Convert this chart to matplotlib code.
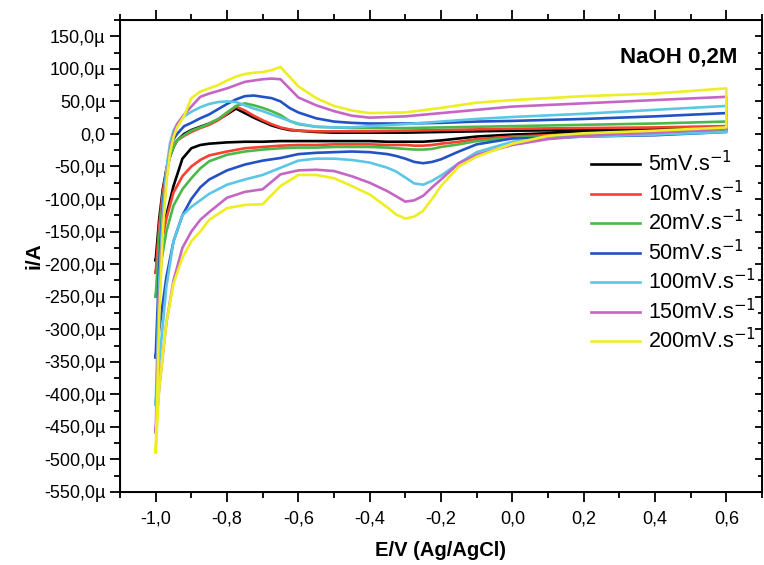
import numpy as np
import matplotlib.pyplot as plt
from matplotlib.ticker import MultipleLocator, FuncFormatter

plt.rcParams['font.family'] = ['Liberation Sans', 'DejaVu Sans']

# potential grids (V vs Ag/AgCl): anodic sweep and return sweep
E_fwd = [-1.0, -0.99, -0.98, -0.97, -0.96, -0.95, -0.94, -0.92, -0.9, -0.875,
         -0.85, -0.825, -0.8, -0.775, -0.75, -0.725, -0.7, -0.675, -0.65, -0.625,
         -0.6, -0.55, -0.5, -0.45, -0.4, -0.3, -0.2, -0.1, 0.0, 0.2, 0.4, 0.6]
E_rev = [0.6, 0.4, 0.2, 0.1, 0.0, -0.1, -0.15, -0.2, -0.225, -0.25, -0.275,
         -0.3, -0.325, -0.35, -0.4, -0.45, -0.5, -0.55, -0.6, -0.65, -0.7,
         -0.75, -0.8, -0.85, -0.875, -0.9, -0.925, -0.95, -0.97, -0.99, -1.0]

# currents in microamps
fwd_5 = [-194, -130, -85, -55, -35, -20, -10, 0, 6, 11, 16, 22, 30, 39, 32, 25,
         19, 13, 9, 6, 5, 3, 2, 2, 2, 2, 3, 4, 5, 6, 7, 9]
rev_5 = [8, 4, 3, 1, -1, -4, -7, -10, -11, -12, -12, -12, -12, -12, -11, -11,
         -11, -11, -11, -11, -12, -12, -13, -15, -17, -22, -38, -80, -125, -175, -194]

fwd_10 = [-213, -140, -90, -55, -32, -18, -10, -3, 3, 9, 14, 21, 31, 42, 36, 28,
          21, 15, 10, 7, 5, 4, 4, 4, 4, 5, 6, 7, 8, 9, 10, 12]
rev_10 = [7, 2, 0, -2, -4, -8, -12, -15, -17, -18, -18, -17, -17, -17, -16, -16,
          -16, -17, -17, -18, -20, -22, -27, -33, -40, -50, -65, -90, -130, -185, -213]

fwd_20 = [-250, -160, -100, -60, -35, -20, -10, -2, 5, 10, 16, 23, 33, 43, 47, 44,
          40, 35, 29, 20, 15, 11, 10, 9, 9, 9, 10, 11, 12, 14, 16, 19]
rev_20 = [6, 0, -2, -4, -6, -11, -16, -20, -23, -24, -24, -23, -22, -21, -20, -20,
          -20, -21, -21, -22, -24, -27, -32, -42, -53, -68, -85, -110, -150, -215, -250]

fwd_50 = [-343, -200, -110, -55, -25, -8, 0, 12, 17, 24, 30, 38, 46, 53, 58, 59,
          57, 55, 50, 40, 33, 24, 19, 17, 16, 16, 17, 19, 20, 23, 27, 32]
rev_50 = [3, -2, -4, -6, -7, -16, -27, -39, -43, -45, -43, -38, -34, -31, -28, -27,
          -28, -29, -31, -37, -41, -47, -56, -70, -82, -100, -125, -165, -220, -300, -343]

fwd_100 = [-416, -230, -120, -55, -15, 5, 15, 27, 34, 41, 46, 49, 50, 49, 44, 39,
           35, 30, 25, 20, 16, 11, 10, 10, 12, 15, 19, 23, 26, 31, 37, 43]
rev_100 = [3, -1, -4, -7, -12, -28, -45, -64, -72, -78, -76, -67, -58, -52, -44, -40,
           -38, -38, -41, -52, -63, -70, -78, -92, -102, -112, -125, -165, -235, -350, -416]

fwd_150 = [-458, -260, -140, -70, -25, 0, 15, 30, 42, 57, 62, 66, 70, 75, 80, 82,
           84, 85, 84, 70, 56, 44, 35, 28, 25, 27, 32, 37, 42, 47, 52, 57]
rev_150 = [8, 2, -3, -8, -17, -32, -45, -70, -82, -95, -102, -104, -96, -88, -75, -65,
           -57, -55, -56, -62, -85, -89, -98, -120, -132, -150, -175, -225, -290, -390, -458]

fwd_200 = [-489, -280, -150, -75, -30, -5, 10, 28, 55, 65, 70, 75, 82, 88, 92, 94,
           95, 98, 103, 88, 73, 55, 43, 36, 32, 33, 40, 48, 52, 58, 62, 70]
rev_200 = [10, 5, 1, -3, -15, -35, -50, -80, -100, -118, -127, -130, -124, -113, -93, -80,
           -68, -63, -63, -80, -108, -109, -114, -132, -150, -165, -190, -230, -290, -390, -489]

labels = ['5mV.s$^{-1}$', '10mV.s$^{-1}$', '20mV.s$^{-1}$', '50mV.s$^{-1}$',
          '100mV.s$^{-1}$', '150mV.s$^{-1}$', '200mV.s$^{-1}$']
colors = ['#000000', '#f5412f', '#4cb84a', '#2352c4', '#5cc6e6', '#c467c4', '#eeee24']

fig = plt.figure(figsize=(7.64, 5.65), dpi=100)
ax = fig.add_axes([120 / 764, 73 / 565, 642 / 764, 472 / 565])

sweeps = [(fwd_5, rev_5), (fwd_10, rev_10), (fwd_20, rev_20), (fwd_50, rev_50),
          (fwd_100, rev_100), (fwd_150, rev_150), (fwd_200, rev_200)]
for (fw, rv), lab, c in zip(sweeps, labels, colors):
    x = np.concatenate([E_fwd, E_rev])
    y = np.concatenate([fw, rv])
    ax.plot(x, y, color=c, lw=1.9, label=lab, solid_joinstyle='round')

ax.set_xlim(-1.1, 0.7)
ax.set_ylim(-550, 175)
ax.xaxis.set_major_locator(MultipleLocator(0.2))
ax.xaxis.set_minor_locator(MultipleLocator(0.1))
ax.yaxis.set_major_locator(MultipleLocator(50))
ax.yaxis.set_minor_locator(MultipleLocator(25))
ax.xaxis.set_major_formatter(FuncFormatter(lambda v, p: f'{v:.1f}'.replace('.', ',').replace('-0,0', '0,0')))


def yfmt(v, p):
    if abs(v) < 1e-9:
        return '0,0'
    return f'{v:.1f}'.replace('.', ',') + 'µ'


ax.yaxis.set_major_formatter(FuncFormatter(yfmt))
ax.tick_params(axis='x', which='both', direction='out', top=True, labelsize=13, pad=6)
ax.tick_params(axis='y', which='both', direction='out', labelsize=13)
ax.tick_params(which='major', length=7, width=1.3)
ax.tick_params(which='minor', length=4, width=1.3)
for s in ax.spines.values():
    s.set_linewidth(1.4)

# right side ticks point inward
ax2 = ax.twinx()
ax2.set_ylim(ax.get_ylim())
ax2.yaxis.set_major_locator(MultipleLocator(50))
ax2.yaxis.set_minor_locator(MultipleLocator(25))
ax2.tick_params(which='both', direction='in', labelright=False, width=1.3)
ax2.tick_params(which='major', length=5)
ax2.tick_params(which='minor', length=3)

ax.set_xlabel('E/V (Ag/AgCl)', fontsize=14.5, fontweight='bold', labelpad=10)
ax.set_ylabel('i/A', fontsize=15, fontweight='bold', labelpad=0)
ax.text(0.961, 0.921, 'NaOH 0,2M', transform=ax.transAxes, ha='right', va='center',
        fontsize=16, fontweight='bold')

ax.legend(loc='upper left', bbox_to_anchor=(0.72, 0.74), frameon=False, fontsize=15.5,
          handlelength=2.3, handletextpad=0.35, labelspacing=0.2, borderaxespad=0)

fig.savefig('out.png', dpi=100)
